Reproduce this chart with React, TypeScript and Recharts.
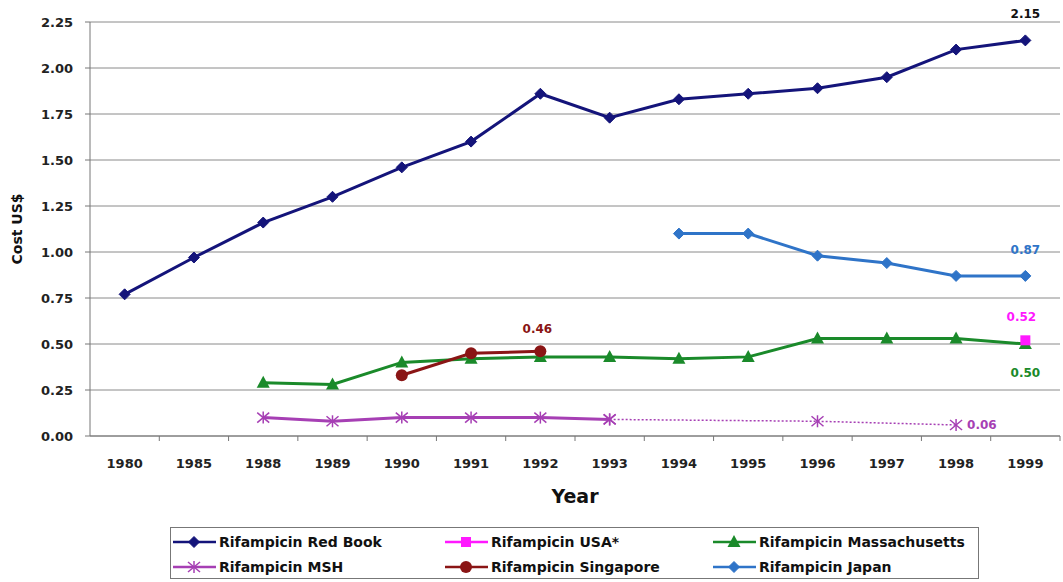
import React from 'react';
import { LineChart, Line, XAxis, YAxis, CartesianGrid } from 'recharts';

// Category axis (years) and per-series costs in US$
const years = ['1980', '1985', '1988', '1989', '1990', '1991', '1992', '1993', '1994', '1995', '1996', '1997', '1998', '1999'];
const redBook = [0.77, 0.97, 1.16, 1.3, 1.46, 1.6, 1.86, 1.73, 1.83, 1.86, 1.89, 1.95, 2.1, 2.15];
const usa = [null, null, null, null, null, null, null, null, null, null, null, null, null, 0.52];
const massachusetts = [null, null, 0.29, 0.28, 0.4, 0.42, 0.43, 0.43, 0.42, 0.43, 0.53, 0.53, 0.53, 0.5];
const mshSolid = [null, null, 0.1, 0.08, 0.1, 0.1, 0.1, 0.09, null, null, null, null, null, null];
const mshDotted = [null, null, null, null, null, null, null, 0.09, null, null, 0.08, null, 0.06, null];
const singapore = [null, null, null, null, 0.33, 0.45, 0.46, null, null, null, null, null, null, null];
const japan = [null, null, null, null, null, null, null, null, 1.1, 1.1, 0.98, 0.94, 0.87, 0.87];
const yTicks = [0, 0.25, 0.5, 0.75, 1, 1.25, 1.5, 1.75, 2, 2.25];

const data = years.map((year, i) => ({
  year,
  redBook: redBook[i],
  usa: usa[i],
  massachusetts: massachusetts[i],
  mshSolid: mshSolid[i],
  mshDotted: mshDotted[i],
  singapore: singapore[i],
  japan: japan[i],
}));

const COLORS = {
  redBook: '#14147a',
  usa: '#ff19ff',
  massachusetts: '#1a8a2a',
  msh: '#a63fb4',
  singapore: '#8a1515',
  japan: '#2f74c8',
};

const FONT = '"DejaVu Sans", Verdana, sans-serif';

const W = 1063;
const H = 582;
const M = { top: 22, right: 3, left: 40, bottom: 76 };
const Y_AXIS_W = 50;
const X_AXIS_H = 70;
const BAND = (W - M.left - M.right - Y_AXIS_W) / years.length;

type Shape = 'diamond' | 'square' | 'triangle' | 'circle' | 'star';

function marker(shape: Shape, cx: number, cy: number, color: string, key?: any) {
  switch (shape) {
    case 'diamond':
      return <polygon key={key} points={`${cx},${cy - 5.5} ${cx + 5.5},${cy} ${cx},${cy + 5.5} ${cx - 5.5},${cy}`} fill={color} stroke={color} />;
    case 'square':
      return <rect key={key} x={cx - 5} y={cy - 5} width={10} height={10} fill={color} />;
    case 'triangle':
      return <polygon key={key} points={`${cx},${cy - 7} ${cx + 6.5},${cy + 5} ${cx - 6.5},${cy + 5}`} fill={color} />;
    case 'circle':
      return <circle key={key} cx={cx} cy={cy} r={6} fill={color} />;
    case 'star':
      return (
        <g key={key} stroke={color} strokeWidth={1.5}>
          <line x1={cx - 6} y1={cy - 5} x2={cx + 6} y2={cy + 5} />
          <line x1={cx - 6} y1={cy + 5} x2={cx + 6} y2={cy - 5} />
          <line x1={cx} y1={cy - 6} x2={cx} y2={cy + 6} />
        </g>
      );
  }
}

const makeDot = (shape: Shape, color: string) => (props: any) => {
  const { cx, cy, value, index } = props;
  if (value == null || cx == null || cy == null) return <g key={`e-${index}`} />;
  return marker(shape, cx, cy, color, `d-${index}`);
};

const makeLabel = (target: number, color: string, dx: number, dy: number, anchor: 'start' | 'middle' | 'end' = 'middle') => (props: any) => {
  const { x, y, index, value } = props;
  if (index !== target || value == null) return <g key={`l-${index}`} />;
  return (
    <text key={`l-${index}`} x={x + dx} y={y + dy} fill={color} fontFamily={FONT} fontWeight="bold" fontSize={12} textAnchor={anchor}>
      {Number(value).toFixed(2)}
    </text>
  );
};

const XTick = (props: any) => {
  const { x, y, payload } = props;
  return (
    <g>
      <line x1={x + BAND / 2} y1={y} x2={x + BAND / 2} y2={y + 5} stroke="#777" strokeWidth={1} />
      <text x={x} y={y + 32} textAnchor="middle" fontFamily={FONT} fontWeight="bold" fontSize={13} fill="#222">
        {payload.value}
      </text>
    </g>
  );
};

const legendItems: { name: string; color: string; shape: Shape }[] = [
  { name: 'Rifampicin Red Book', color: COLORS.redBook, shape: 'diamond' },
  { name: 'Rifampicin USA*', color: COLORS.usa, shape: 'square' },
  { name: 'Rifampicin Massachusetts', color: COLORS.massachusetts, shape: 'triangle' },
  { name: 'Rifampicin MSH', color: COLORS.msh, shape: 'star' },
  { name: 'Rifampicin Singapore', color: COLORS.singapore, shape: 'circle' },
  { name: 'Rifampicin Japan', color: COLORS.japan, shape: 'diamond' },
];

const LegendBox = () => {
  const colX = [3, 275, 543];
  const rowY = [15, 40];
  return (
    <svg width={810} height={53} style={{ position: 'absolute', left: 170, top: 527 }}>
      <rect x={0.5} y={0.5} width={808} height={51} fill="#fff" stroke="#777" />
      {legendItems.map((it, i) => {
        const x = colX[i % 3];
        const y = rowY[Math.floor(i / 3)];
        return (
          <g key={it.name}>
            <line x1={x} y1={y} x2={x + 43} y2={y} stroke={it.color} strokeWidth={2.5} />
            {marker(it.shape, x + 21, y, it.color)}
            <text x={x + 46} y={y + 5} fontFamily={FONT} fontWeight="bold" fontSize={14} fill="#111">
              {it.name}
            </text>
          </g>
        );
      })}
    </svg>
  );
};

export default function App() {
  return (
    <div style={{ position: 'absolute', left: 0, top: 0, width: W, height: H, background: '#fff' }}>
      <LineChart width={W} height={H} data={data} margin={M}>
        <CartesianGrid vertical={false} stroke="#8a8a8a" strokeWidth={1} />
        <XAxis
          dataKey="year"
          height={X_AXIS_H}
          padding={{ left: BAND / 2, right: BAND / 2 }}
          axisLine={{ stroke: '#777' }}
          tickLine={false}
          tickSize={0}
          tickMargin={0}
          interval={0}
          tick={<XTick />}
          label={{
            content: (p: any) => (
              <text x={p.viewBox.x + p.viewBox.width / 2} y={p.viewBox.y + 67} textAnchor="middle" fontFamily={FONT} fontWeight="bold" fontSize={19} fill="#111">
                Year
              </text>
            ),
          }}
        />
        <YAxis
          width={Y_AXIS_W}
          domain={[0, 2.25]}
          ticks={yTicks}
          interval={0}
          tickFormatter={(v: number) => v.toFixed(2)}
          axisLine={{ stroke: '#777' }}
          tickLine={{ stroke: '#777' }}
          tickSize={5}
          tickMargin={12}
          tick={{ fontFamily: FONT, fontWeight: 'bold', fontSize: 13, fill: '#222' }}
          label={{
            content: (p: any) => {
              const cx = 22;
              const cy = p.viewBox.y + p.viewBox.height / 2;
              return (
                <text x={cx} y={cy} transform={`rotate(-90 ${cx} ${cy})`} textAnchor="middle" fontFamily={FONT} fontWeight="bold" fontSize={14} fill="#111">
                  Cost US$
                </text>
              );
            },
          }}
        />
        <Line dataKey="mshDotted" stroke={COLORS.msh} strokeWidth={1.5} strokeDasharray="2 2" connectNulls dot={makeDot('star', COLORS.msh)} isAnimationActive={false} label={makeLabel(12, COLORS.msh, 11, 4, 'start')} />
        <Line dataKey="mshSolid" stroke={COLORS.msh} strokeWidth={3} dot={makeDot('star', COLORS.msh)} isAnimationActive={false} />
        <Line dataKey="massachusetts" stroke={COLORS.massachusetts} strokeWidth={3} dot={makeDot('triangle', COLORS.massachusetts)} isAnimationActive={false} label={makeLabel(13, COLORS.massachusetts, 0, 33)} />
        <Line dataKey="singapore" stroke={COLORS.singapore} strokeWidth={3} dot={makeDot('circle', COLORS.singapore)} isAnimationActive={false} label={makeLabel(6, COLORS.singapore, -3, -18)} />
        <Line dataKey="usa" stroke={COLORS.usa} strokeWidth={3} dot={makeDot('square', COLORS.usa)} isAnimationActive={false} label={makeLabel(13, COLORS.usa, -4, -19)} />
        <Line dataKey="japan" stroke={COLORS.japan} strokeWidth={3} dot={makeDot('diamond', COLORS.japan)} isAnimationActive={false} label={makeLabel(13, COLORS.japan, 0, -22)} />
        <Line dataKey="redBook" stroke={COLORS.redBook} strokeWidth={3} dot={makeDot('diamond', COLORS.redBook)} isAnimationActive={false} label={makeLabel(13, '#111', 0, -22)} />
      </LineChart>
      <LegendBox />
    </div>
  );
}
